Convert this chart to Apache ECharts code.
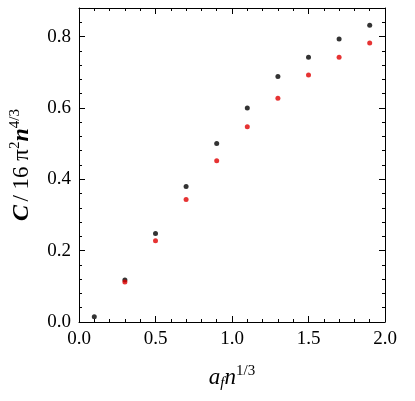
<!doctype html>
<html>
<head>
<meta charset="utf-8">
<script src="https://cdn.jsdelivr.net/npm/echarts@6/dist/echarts.min.js"></script>
<style>
html,body{margin:0;width:100%;height:100%;background:#fff;}
#chart{width:415px;height:401px;}
</style>
</head>
<body>
<div id="chart"></div>
<script>
var blackX = [0.1, 0.3, 0.5, 0.7, 0.9, 1.1, 1.3, 1.5, 1.7, 1.9];
var blackY = [0.015, 0.118, 0.248, 0.380, 0.500, 0.600, 0.688, 0.742, 0.793, 0.832];
var redX = [0.3, 0.5, 0.7, 0.9, 1.1, 1.3, 1.5, 1.7, 1.9];
var redY = [0.112, 0.228, 0.343, 0.452, 0.547, 0.627, 0.692, 0.742, 0.782];

function pairs(xs, ys){ return xs.map(function(x,i){ return [x, ys[i]]; }); }

var font = 'Liberation Serif';
function ax(min, max, interval, fmt){
    return {
        min: min, max: max, interval: interval,
        axisLine: {onZero:false, lineStyle:{color:'#000', width:1}},
        axisTick: {inside:true, length:6, lineStyle:{color:'#000'}},
        minorTick: {show:true, splitNumber:5, length:3, lineStyle:{color:'#000'}},
        splitLine: {show:false},
        axisLabel: {color:'#000', fontFamily:font, fontSize:19, formatter:fmt, showMaxLabel: max !== 0.88}
    };
}
var xa = ax(0, 2, 0.5, function(v){ return v.toFixed(1); });
xa.name = '{i|a}{s|f}{i|n}{u|1/3}';
xa.nameLocation = 'middle'; xa.nameGap = 42;
xa.nameTextStyle = {rich:{
    i:{fontFamily:font, fontStyle:'italic', fontSize:23, color:'#000'},
    s:{fontFamily:font, fontStyle:'italic', fontSize:15, color:'#000', verticalAlign:'bottom', padding:[10,0,0,0]},
    u:{fontFamily:font, fontSize:15, color:'#000', verticalAlign:'top', padding:[0,0,12,0]}
}};
var xa2 = ax(0, 2, 0.5); xa2.position='top'; xa2.axisLabel = {show:false};
var ya = ax(0, 0.88, 0.2, function(v){ return v.toFixed(1); });
ya.name = '{i|C} {r|/ 16 π}{u|2}{i|n}{u|4/3}';
ya.nameLocation = 'middle'; ya.nameGap = 44;
ya.nameTextStyle = {rich:{
    i:{fontFamily:font, fontStyle:'italic', fontWeight:'bold', fontSize:24, color:'#000'},
    r:{fontFamily:font, fontSize:23, color:'#000'},
    u:{fontFamily:font, fontSize:15, color:'#000', verticalAlign:'top', padding:[0,0,12,0]}
}};
var ya2 = ax(0, 0.88, 0.2); ya2.position='right'; ya2.axisLabel = {show:false};

var chart = echarts.init(document.getElementById('chart'));
chart.setOption({
    animation: false,
    grid: {left:67, right:30, top:8, bottom:79},
    xAxis: [xa, xa2],
    yAxis: [ya, ya2],
    series: [
        {type:'scatter', data:pairs(blackX, blackY), symbolSize:5, itemStyle:{color:'#000'}},
        {type:'scatter', data:pairs(redX, redY), symbolSize:5, itemStyle:{color:'#e00000'}}
    ]
});
</script>
</body>
</html>
